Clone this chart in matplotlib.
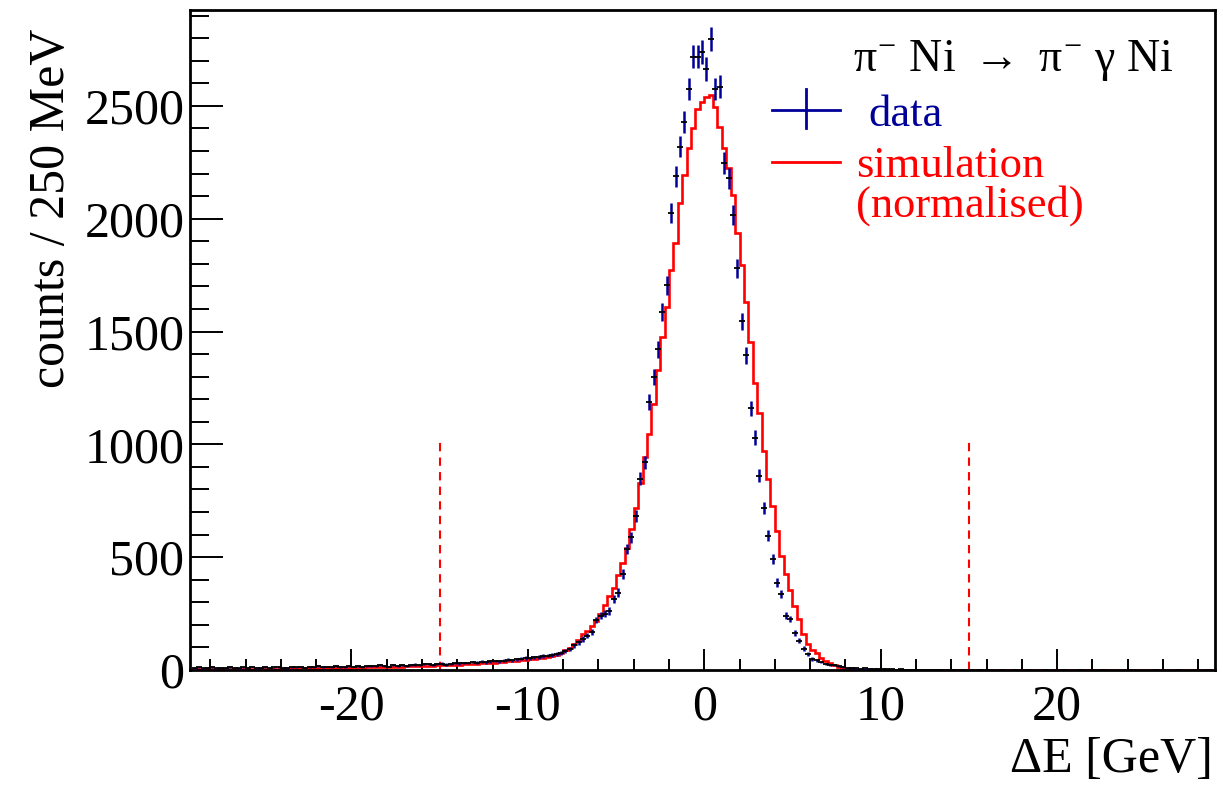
import matplotlib
matplotlib.use("Agg")
import matplotlib.pyplot as plt
from matplotlib.ticker import MultipleLocator
import numpy as np

plt.rcParams['font.family'] = ['Liberation Serif', 'DejaVu Serif']
plt.rcParams['mathtext.fontset'] = 'custom'
plt.rcParams['mathtext.rm'] = 'Liberation Serif'
plt.rcParams['mathtext.it'] = 'Liberation Serif'
plt.rcParams['axes.unicode_minus'] = False

# 250 MeV bins from -29 to 29 GeV
bin_edges = np.arange(-29.0, 29.0001, 0.25)
bin_centers = 0.5 * (bin_edges[:-1] + bin_edges[1:])

# data counts (left tail -28.875..-8.375, core -8.125..8.125, right tail 8.375..28.875)
data_left = [9, 12, 7, 10, 14, 8, 11, 9, 13, 10,
             8, 12, 10, 15, 9, 11, 13, 10, 12, 14,
             11, 9, 13, 12, 15, 10, 14, 12, 16, 13,
             15, 12, 17, 14, 13, 18, 15, 16, 14, 19,
             17, 16, 20, 18, 15, 21, 19, 22, 18, 23,
             24, 21, 26, 27, 22, 25, 28, 24, 27, 30,
             29, 32, 30, 35, 33, 37, 34, 38, 40, 39,
             42, 45, 43, 48, 50, 53, 51, 56, 58, 62,
             64, 68, 70]
data_core = [75, 85, 93, 110, 122, 138, 152, 168, 222, 240,
             250, 262, 315, 343, 426, 537, 588, 684, 848, 920,
             1187, 1297, 1421, 1585, 1705, 2025, 2189, 2320, 2430, 2575,
             2718, 2718, 2740,
             2664, 2797, 2575, 2584, 2247, 2180, 2016, 1780, 1545, 1394,
             1159, 1030, 861, 719, 595, 493, 386, 337, 240, 226,
             164, 129, 95, 71, 49, 44, 35, 27, 22, 20,
             16, 13, 10]
data_right = [9, 8, 6, 7, 5, 4, 5, 3, 4, 3,
              2, 3, 2, 2, 1, 2, 1, 1, 2, 1,
              1, 0, 1, 1, 0, 1, 0, 1, 0, 1,
              0, 1, 0, 0, 1, 0, 0, 1, 0, 0,
              1, 0, 0, 0, 1, 0, 0, 0, 1, 0,
              0, 0, 1, 0, 0, 0, 0, 1, 0, 0,
              0, 0, 0, 1, 0, 0, 0, 0, 0, 1,
              0, 0, 0, 0, 1, 0, 0, 0, 0, 0,
              0, 1, 0]

# normalised simulation
sim_left = [3, 3, 4, 3, 4, 4, 3, 4, 4, 5,
            4, 5, 4, 5, 5, 5, 6, 5, 6, 6,
            6, 6, 7, 6, 7, 7, 8, 7, 8, 8,
            8, 9, 9, 9, 10, 10, 10, 11, 11, 12,
            12, 12, 13, 13, 14, 14, 15, 15, 16, 16,
            17, 17, 18, 19, 19, 20, 21, 22, 22, 23,
            24, 25, 26, 27, 28, 29, 30, 31, 33, 34,
            36, 38, 40, 42, 44, 46, 48, 50, 52, 55,
            58, 62, 66]
sim_core = [75, 88, 98, 115, 135, 160, 172, 195, 218, 250,
            290, 330, 364, 420, 475, 542, 626, 720, 830, 945,
            1048, 1181, 1328, 1474, 1607, 1772, 1893, 2069, 2193, 2313,
            2402, 2487, 2518,
            2540, 2549, 2496, 2407, 2313, 2225, 2105, 1936, 1794, 1630,
            1452, 1274, 1141, 972, 848, 728, 617, 506, 426, 355,
            284, 226, 160, 115, 88, 75, 53, 40, 31, 22,
            14, 9, 6]
sim_right = [3, 2, 2, 1, 1, 1, 1, 0.5, 0.5, 0.5] + [0] * 73

data = np.array(data_left + data_core + data_right, dtype=float)
sim = np.array(sim_left + sim_core + sim_right, dtype=float)

cut_values = [-15, 15]
cut_height = 1020

navy = '#000099'

fig = plt.figure(figsize=(12.23, 7.85), dpi=100)
ax = fig.add_axes([190 / 1223, 1 - 670 / 785, 1025 / 1223, 660 / 785])

# simulation histogram
ax.stairs(sim, bin_edges, color='red', linewidth=1.9, zorder=2)

# data points with sqrt(N) errors
nz = data > 0
ax.errorbar(bin_centers[nz], data[nz], yerr=np.sqrt(data[nz]), fmt='none',
            ecolor=navy, elinewidth=1.8, capsize=0, zorder=3)
ax.plot(bin_centers[nz], data[nz], linestyle='none', marker='_',
        markersize=4, markeredgewidth=1.3, color='black', zorder=4)

# cut lines
ax.vlines(cut_values, 0, cut_height, colors='red', linestyles=(0, (4, 3)),
          linewidth=1.5, zorder=2)

ax.set_xlim(-29.15, 28.95)
ax.set_ylim(0, 2925)

ax.xaxis.set_major_locator(MultipleLocator(10))
ax.xaxis.set_minor_locator(MultipleLocator(2))
ax.yaxis.set_major_locator(MultipleLocator(500))
ax.yaxis.set_minor_locator(MultipleLocator(100))
ax.tick_params(which='both', direction='in', top=False, right=False,
               width=1.4, labelsize=36)
ax.tick_params(axis='x', which='major', length=15, pad=10)
ax.tick_params(axis='x', which='minor', length=8)
ax.tick_params(axis='y', which='major', length=24, pad=4)
ax.tick_params(axis='y', which='minor', length=14)
for s in ax.spines.values():
    s.set_linewidth(2)

# axis titles (ROOT style, aligned to the axis ends)
fig.text(52 / 1223, 1 - 28 / 785, 'counts / 250 MeV', rotation=90,
         ha='center', va='top', fontsize=36)
fig.text(1213 / 1223, 1 - 760 / 785, '\u0394E [GeV]', ha='right',
         va='center', fontsize=36)

# legend
fig.text(853 / 1223, 1 - 71 / 785,
         r'$\pi^{-}\ \mathrm{Ni}\ \rightarrow\ \pi^{-}\ \gamma\ \mathrm{Ni}$',
         ha='left', va='baseline', fontsize=33)
fig.add_artist(plt.Line2D([772 / 1223, 840 / 1223], [1 - 110 / 785, 1 - 110 / 785],
                          color=navy, linewidth=2))
fig.add_artist(plt.Line2D([806 / 1223, 806 / 1223], [1 - 89 / 785, 1 - 128 / 785],
                          color=navy, linewidth=2))
fig.text(868 / 1223, 1 - 126 / 785, 'data', color=navy, ha='left',
         va='baseline', fontsize=32)
fig.add_artist(plt.Line2D([772 / 1223, 840 / 1223], [1 - 162 / 785, 1 - 162 / 785],
                          color='red', linewidth=2))
fig.text(856 / 1223, 1 - 177 / 785, 'simulation', color='red', ha='left',
         va='baseline', fontsize=32)
fig.text(856 / 1223, 1 - 217 / 785, '(normalised)', color='red', ha='left',
         va='baseline', fontsize=32)

fig.savefig('out.png', dpi=100)
